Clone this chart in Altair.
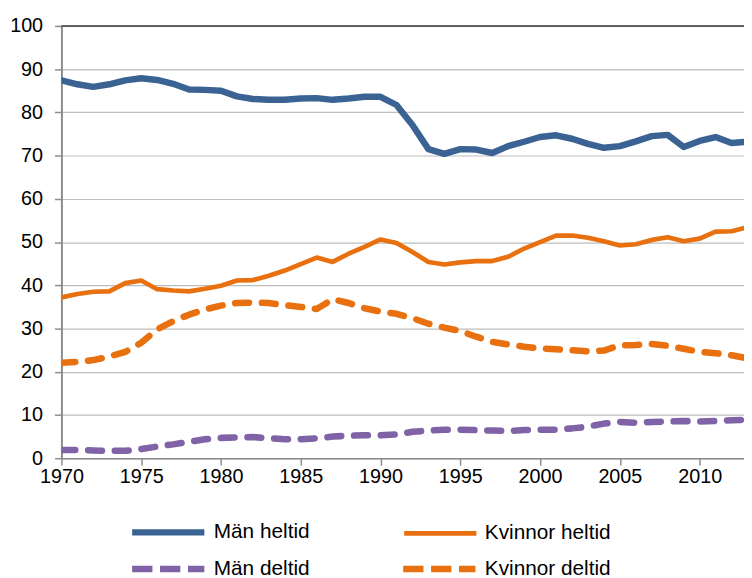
import altair as alt
import pandas as pd

years = list(range(1970, 2014))
full_names = ["Män heltid", "Kvinnor heltid"]
full_colors = ["#3A6394", "#E8700E"]
part_names = ["Män deltid", "Kvinnor deltid"]
part_colors = ["#7F63A6", "#E8700E"]

man_heltid = [87.4, 86.5, 85.9, 86.5, 87.4, 87.9, 87.5, 86.6, 85.3, 85.2,
              85.0, 83.7, 83.1, 82.9, 82.9, 83.2, 83.3, 82.9, 83.2, 83.6,
              83.6, 81.7, 77.1, 71.5, 70.4, 71.5, 71.4, 70.6, 72.2, 73.2,
              74.3, 74.7, 73.9, 72.7, 71.8, 72.2, 73.3, 74.5, 74.8, 72.0,
              73.4, 74.3, 72.9, 73.2]
kvinnor_heltid = [37.2, 38.0, 38.5, 38.6, 40.5, 41.1, 39.1, 38.8, 38.6, 39.2,
                  39.9, 41.1, 41.2, 42.2, 43.4, 44.9, 46.4, 45.4, 47.3, 48.9,
                  50.6, 49.8, 47.7, 45.4, 44.8, 45.3, 45.6, 45.6, 46.6, 48.5,
                  50.0, 51.5, 51.5, 51.0, 50.2, 49.2, 49.5, 50.5, 51.1, 50.2,
                  50.8, 52.4, 52.5, 53.4]
man_deltid = [1.9, 1.9, 1.8, 1.7, 1.7, 2.1, 2.7, 3.2, 3.8, 4.4,
              4.7, 4.8, 4.9, 4.6, 4.4, 4.4, 4.6, 5.0, 5.2, 5.3,
              5.3, 5.5, 6.1, 6.4, 6.6, 6.6, 6.5, 6.4, 6.3, 6.5,
              6.6, 6.6, 6.9, 7.3, 8.0, 8.4, 8.2, 8.4, 8.5, 8.6,
              8.5, 8.6, 8.8, 8.9]
kvinnor_deltid = [22.1, 22.3, 22.7, 23.5, 24.6, 26.7, 29.8, 31.7, 33.2, 34.4,
                  35.3, 35.9, 36.0, 35.9, 35.4, 35.0, 34.5, 36.8, 35.9, 34.7,
                  33.9, 33.4, 32.4, 31.1, 30.2, 29.4, 28.1, 26.9, 26.3, 25.8,
                  25.4, 25.2, 25.0, 24.7, 24.9, 26.1, 26.2, 26.4, 26.0, 25.3,
                  24.6, 24.3, 23.8, 23.1]

x_ticks = [1970, 1975, 1980, 1985, 1990, 1995, 2000, 2005, 2010]
y_ticks = [0, 10, 20, 30, 40, 50, 60, 70, 80, 90, 100]


def long_table(names, series):
    rows = []
    for name, vals in zip(names, series):
        for yr, v in zip(years, vals):
            rows.append({"year": yr, "value": v, "series": name})
    return pd.DataFrame(rows)


df_full = long_table(full_names, [man_heltid, kvinnor_heltid])
df_part = long_table(part_names, [man_deltid, kvinnor_deltid])

FONT = "Liberation Sans"

x_enc = alt.X("year:Q",
              scale=alt.Scale(domain=[1970, 2012.78], nice=False, zero=False),
              axis=alt.Axis(values=x_ticks, format="d", title=None, grid=False,
                            tickSize=7, tickColor="#8C8C8C", tickWidth=1.5,
                            domainColor="#8C8C8C", domainWidth=1.5,
                            labelFontSize=20, labelFont=FONT, labelColor="#000000",
                            labelPadding=2, labelFlush=False))
y_enc = alt.Y("value:Q",
              scale=alt.Scale(domain=[0, 100], nice=False),
              axis=alt.Axis(values=y_ticks, title=None, grid=True,
                            gridColor="#BDBDBD", gridWidth=1.2,
                            tickSize=7, tickColor="#8C8C8C", tickWidth=1.5,
                            domainColor="#8C8C8C", domainWidth=2,
                            labelFontSize=20, labelFont=FONT, labelColor="#000000",
                            labelPadding=12))

common_legend = dict(
    title=None, orient="none", legendX=68, direction="horizontal",
    symbolType="stroke", symbolSize=5329, symbolStrokeWidth=6.5,
    labelFontSize=21, labelFont=FONT, labelColor="#000000",
    labelOffset=6, padding=0,
)

full_lines = alt.Chart(df_full).mark_line(
    clip=True, strokeCap="round", strokeJoin="round"
).encode(
    x=x_enc, y=y_enc,
    color=alt.Color("series:N", sort=full_names,
                    scale=alt.Scale(domain=full_names, range=full_colors),
                    legend=alt.Legend(legendY=472, columnPadding=86, **common_legend)),
    strokeWidth=alt.StrokeWidth("series:N",
                                scale=alt.Scale(domain=full_names, range=[6.5, 4.7]),
                                legend=None),
)

part_lines = alt.Chart(df_part).mark_line(
    clip=True, strokeCap="round", strokeJoin="round",
    strokeDash=[14, 13], strokeWidth=6.6,
).encode(
    x=x_enc, y=y_enc,
    color=alt.Color("series:N", sort=part_names,
                    scale=alt.Scale(domain=part_names, range=part_colors),
                    legend=alt.Legend(legendY=509, columnPadding=81,
                                      symbolDash=[20.5, 7.7], **common_legend)),
)

top = alt.Chart(pd.DataFrame({"v": [100]})).mark_rule(color="#3A3A3A", strokeWidth=1.5).encode(
    y=alt.Y("v:Q")
)

chart = alt.layer(top, part_lines, full_lines).resolve_scale(
    color="independent", strokeWidth="independent"
).properties(
    width=690, height=437,
    autosize=alt.AutoSizeParams(type="none"),
    padding={"left": 54, "top": 15, "right": 0, "bottom": 118},
).configure_view(stroke=None).configure(font=FONT)

chart.save("out.html", embed_options={"renderer": "svg", "actions": False})
